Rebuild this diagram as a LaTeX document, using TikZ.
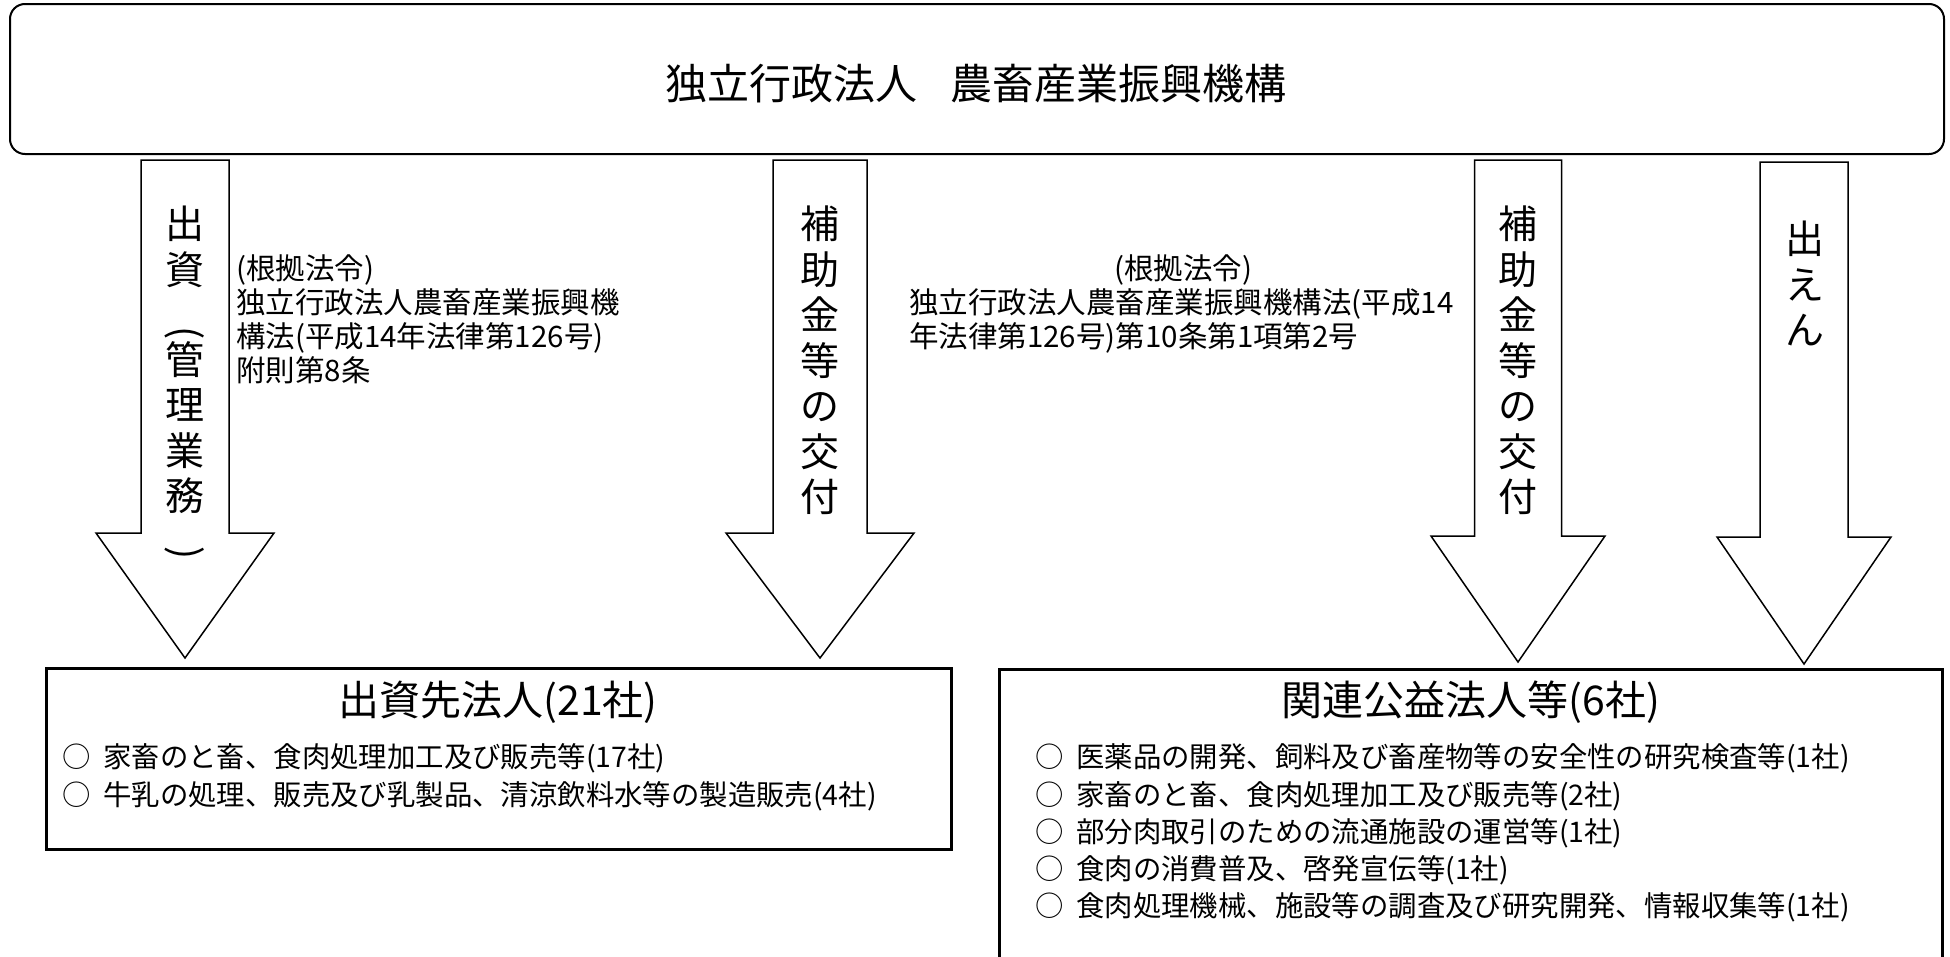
\documentclass[tikz,border=0pt]{standalone}
\usepackage{fontspec}
\setmainfont{Noto Sans CJK JP}
\tikzset{
  orgbox/.style={line width=2bp, rounded corners=15bp},
  boxline/.style={line width=3bp},
  arrowline/.style={line width=1.5bp, fill=white, line join=miter},
  vch/.style={font=\fontsize{39bp}{39bp}\selectfont, inner sep=0pt, anchor=center, text height=0.88em, text depth=0.12em},
  vparen/.style={font=\fontsize{39bp}{39bp}\selectfont, inner sep=0pt, anchor=center, rotate=-90},
  titletext/.style={font=\fontsize{42bp}{42bp}\selectfont, inner sep=0pt, anchor=base},
  boxtitle/.style={font=\fontsize{41bp}{41bp}\selectfont, inner sep=0pt, anchor=base},
  anntext/.style={font=\fontsize{29.5bp}{29.5bp}\selectfont, inner sep=0pt, anchor=base west},
  anncenter/.style={font=\fontsize{29.5bp}{29.5bp}\selectfont, inner sep=0pt, anchor=base},
  itemtext/.style={font=\fontsize{28.4bp}{28.4bp}\selectfont, inner sep=0pt, anchor=base west}
}
\newcommand{\myBlockArrow}[6]{%
  \draw[arrowline] (#1-#3,#2) -- (#1+#3,#2) -- (#1+#3,#4) -- (#1+#5,#4) -- (#1,#6) -- (#1-#5,#4) -- (#1-#3,#4) -- cycle;}
\begin{document}
\begin{tikzpicture}[x=1bp,y=-1bp]
\useasboundingbox (0,0) rectangle (1950,957);
\fill[white] (0,0) rectangle (1950,957);

% top organisation box
\draw[orgbox] (10,4) rectangle (1944,154);
\node[titletext] (org) at (976,99) {独立行政法人\hspace{0.8em}農畜産業振興機構};

% block arrows
\myBlockArrow{185}{160}{44}{533}{89}{658}
\myBlockArrow{820}{160}{47}{533}{94}{658}
\myBlockArrow{1518}{160}{43.5}{536}{87}{662}
\myBlockArrow{1804}{162}{44}{537}{87}{664}

% vertical texts in arrows
\node[vch] (aone-0) at (185,235) {出};
\node[vch] (aone-1) at (185,281) {資};
\node[vparen] (aone-2) at (185,333) {(};
\foreach \c [count=\i from 3] in {管,理,業,務}
  \node[vch] (aone-\i) at (185,235+45.3*\i) {\c};
\node[vparen] (aone-7) at (185,553) {)};
\foreach \c [count=\i from 0] in {補,助,金,等,の,交,付}
  \node[vch] (atwo-\i) at (820,235+45.5*\i) {\c};
\foreach \c [count=\i from 0] in {補,助,金,等,の,交,付}
  \node[vch] (athree-\i) at (1518,235+45.5*\i) {\c};
\foreach \c [count=\i from 0] in {出,え,ん}
  \node[vch] (afour-\i) at (1805,250+45.5*\i) {\c};

% legal basis annotations
\node[anntext] (lawa1) at (236,279) {(根拠法令)};
\node[anntext] (lawa2) at (236,313) {独立行政法人農畜産業振興機};
\node[anntext] (lawa3) at (236,347) {構法(平成14年法律第126号)};
\node[anntext] (lawa4) at (236,381) {附則第8条};

\node[anncenter] (lawb1) at (1183,279) {(根拠法令)};
\node[anntext] (lawb2) at (909,313) {独立行政法人農畜産業振興機構法(平成14};
\node[anntext] (lawb3) at (909,347) {年法律第126号)第10条第1項第2号};

% bottom left box
\draw[boxline] (46,668) rectangle (951,849);
\node[boxtitle] (lefttitle) at (498,715) {出資先法人(21社)};
\node[itemtext] (left1) at (62,767.5) {○\hspace{0.45em}家畜のと畜、食肉処理加工及び販売等(17社)};
\node[itemtext] (left2) at (62,805.5) {○\hspace{0.45em}牛乳の処理、販売及び乳製品、清涼飲料水等の製造販売(4社)};

% bottom right box (continues past the lower edge)
\draw[boxline] (999,960) -- (999,669) -- (1942,669) -- (1942,960);
\node[boxtitle] (righttitle) at (1471,715) {関連公益法人等(6社)};
\node[itemtext] (right1) at (1035,767.5) {○\hspace{0.45em}医薬品の開発、飼料及び畜産物等の安全性の研究検査等(1社)};
\node[itemtext] (right2) at (1035,805.5) {○\hspace{0.45em}家畜のと畜、食肉処理加工及び販売等(2社)};
\node[itemtext] (right3) at (1035,842.5) {○\hspace{0.45em}部分肉取引のための流通施設の運営等(1社)};
\node[itemtext] (right4) at (1035,879.5) {○\hspace{0.45em}食肉の消費普及、啓発宣伝等(1社)};
\node[itemtext] (right5) at (1035,916.5) {○\hspace{0.45em}食肉処理機械、施設等の調査及び研究開発、情報収集等(1社)};
\end{tikzpicture}
\end{document}
